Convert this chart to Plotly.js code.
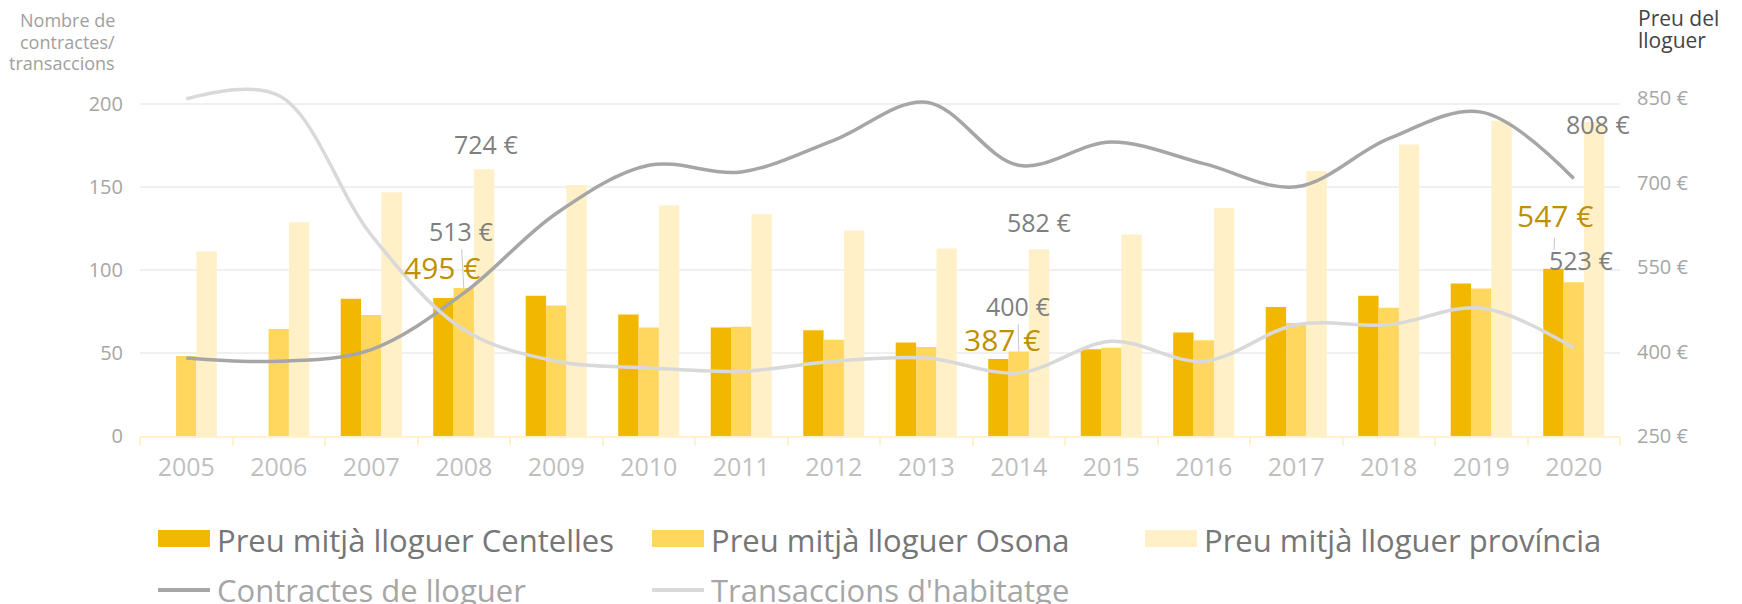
<!DOCTYPE html>
<html>
<head>
<meta charset="utf-8">
<script src="https://cdn.plot.ly/plotly-3.0.1.min.js"></script>
<style>html,body{margin:0;padding:0;background:#fff;}#chart{width:1742px;height:604px;}</style>
</head>
<body>
<div id="chart"></div>
<script>
// ---- data ----
const years = ['2005','2006','2007','2008','2009','2010','2011','2012','2013','2014','2015','2016','2017','2018','2019','2020'];
const preuCentelles = [null, null, 494, 495, 499, 466, 443, 438, 416, 387, 404, 434, 479, 499, 521, 547];
const preuOsona     = [392, 440, 465, 513, 482, 443, 444, 421, 408, 400, 407, 420, 451, 478, 512, 523];
const preuProvincia = [578, 630, 683, 724, 696, 660, 644, 615, 583, 582, 608, 655, 721, 768, 810, 808];
const contractes    = [47, 45, 52, 86, 134, 163, 159, 178, 201, 163, 177, 164, 150, 179, 195, 155];
const transaccions  = [203, 205, 121, 64, 45, 41, 39, 45, 47, 38, 57, 45, 67, 67, 77, 53];
const barNames  = ['Preu mitjà lloguer Centelles', 'Preu mitjà lloguer Osona', 'Preu mitjà lloguer província'];
const lineNames = ['Contractes de lloguer', "Transaccions d'habitatge"];
const priceTicks = [250, 400, 550, 700, 850];
const countTicks = [0, 50, 100, 150, 200];
const labelYears = ['2008', '2014', '2020'];
const leftTitle  = ['Nombre de', 'contractes/', 'transaccions'];
const rightTitle = ['Preu del', 'lloguer'];

// ---- styles ----
const FONT = 'Open Sans, Roboto, DejaVu Sans, sans-serif';
const barColors  = ['#F2B700', '#FFD75F', '#FFF0C8'];
const lineColors = ['#A6A6A6', '#D9D9D9'];
const GRAY_LBL = '#7F7F7F', GOLD_LBL = '#BF9000';
const M = {l: 140, r: 122, t: 70, b: 168};
const W = 1742 - M.l - M.r, H = 604 - M.t - M.b;
const fx = px => (px - M.l) / W;
const fy = py => (M.t + H - py) / H;
const PRICE_PX = 0.5628, COUNT_PX = 1.661;
const barW = W / years.length * 0.66 / 3;

const traces = [];
[preuCentelles, preuOsona, preuProvincia].forEach((vals, i) => {
  traces.push({type: 'bar', x: years, y: vals, name: barNames[i], yaxis: 'y',
    marker: {color: barColors[i], line: {width: 0}}, hovertemplate: '%{x}: %{y} €<extra>' + barNames[i] + '</extra>'});
});
[contractes, transaccions].forEach((vals, i) => {
  traces.push({type: 'scatter', mode: 'lines', x: years, y: vals, name: lineNames[i], yaxis: 'y2',
    line: {color: lineColors[i], width: 3.5, shape: 'spline', smoothing: 1}});
});

// ---- data labels ----
const labelStyle = {
  '2008': [{dx: -1, dy: 31}, {arrow: true, ax: -3, ay: -57}, {dx: 2, dy: 25}],
  '2014': [{dx: 4, dy: 19.5}, {arrow: true, ax: -1, ay: -46}, {dx: 0, dy: 27}],
  '2020': [{arrow: true, ax: 2, ay: -53, standoff: 19}, {dx: 7, dy: 22}, {dx: 4, dy: -2.5}]
};
const annotations = [];
const seriesList = [preuCentelles, preuOsona, preuProvincia];
labelYears.forEach(yr => {
  const idx = years.indexOf(yr);
  seriesList.forEach((vals, s) => {
    const st = labelStyle[yr][s];
    const v = vals[idx];
    const gold = s === 0;
    const a = {xref: 'x', yref: 'y', x: idx, y: v, text: Math.round(v) + ' €',
      font: {family: FONT, size: gold ? 30 : 25, color: gold ? GOLD_LBL : GRAY_LBL},
      xanchor: 'center', yanchor: 'middle'};
    const off = (s - 1) * barW;
    if (st.arrow) {
      Object.assign(a, {showarrow: true, xshift: off, ax: st.ax, ay: st.ay, arrowhead: 0,
        arrowwidth: 1, arrowcolor: '#C8C8C8', standoff: st.standoff || 0});
    } else {
      Object.assign(a, {showarrow: false, xshift: off + st.dx, yshift: st.dy});
    }
    annotations.push(a);
  });
});

// axis titles (one annotation per line)
[20, 41.5, 62.5].forEach((py, i) => annotations.push({xref: 'paper', yref: 'paper', x: fx(117), y: fy(py),
  xanchor: 'right', yanchor: 'middle', showarrow: false, text: leftTitle[i],
  font: {family: FONT, size: 18, color: '#A0A0A0'}}));
[18.5, 40.5].forEach((py, i) => annotations.push({xref: 'paper', yref: 'paper', x: fx(1636), y: fy(py),
  xanchor: 'left', yanchor: 'middle', showarrow: false, text: rightTitle[i],
  font: {family: FONT, size: 21, color: '#444444'}}));

// ---- legend (drawn) ----
const shapes = [];
const legendBars = [[158, 210], [652, 704], [1145, 1197]];
legendBars.forEach((r, i) => {
  shapes.push({type: 'rect', xref: 'paper', yref: 'paper', x0: fx(r[0]), x1: fx(r[1]), y0: fy(547), y1: fy(530),
    fillcolor: barColors[i], line: {width: 0}});
  annotations.push({xref: 'paper', yref: 'paper', x: fx(r[1] + 5), y: fy(540), xanchor: 'left', yanchor: 'middle',
    showarrow: false, text: barNames[i], font: {family: FONT, size: 31, color: '#767676'}});
});
const legendLines = [[158, 210], [652, 704]];
legendLines.forEach((r, i) => {
  shapes.push({type: 'line', xref: 'paper', yref: 'paper', x0: fx(r[0]), x1: fx(r[1]), y0: fy(590), y1: fy(590),
    line: {color: lineColors[i], width: 4}});
  annotations.push({xref: 'paper', yref: 'paper', x: fx(r[1] + 5), y: fy(590), xanchor: 'left', yanchor: 'middle',
    showarrow: false, text: lineNames[i], font: {family: FONT, size: 31, color: '#A6A6A6'}});
});

const layout = {
  width: 1742, height: 604,
  margin: M,
  paper_bgcolor: '#ffffff', plot_bgcolor: '#ffffff',
  font: {family: FONT},
  showlegend: false,
  barmode: 'group', bargap: 0.34, bargroupgap: 0,
  xaxis: {type: 'category', categoryorder: 'array', categoryarray: years, range: [-0.5, years.length - 0.5],
    tickson: 'boundaries', ticks: 'outside', ticklen: 8, tickwidth: 2, tickcolor: '#FFF2CC',
    showline: true, linecolor: '#FFF2CC', linewidth: 2, showgrid: false, zeroline: false, tickangle: 0,
    tickfont: {family: FONT, size: 25, color: '#BFBFBF'}, ticklabelstandoff: 8},
  yaxis: {side: 'right', range: [250, 250 + H / PRICE_PX], tickvals: priceTicks,
    ticktext: priceTicks.map(v => v + ' €'), showgrid: false, zeroline: false, showline: false,
    tickfont: {family: FONT, size: 20, color: '#A6A6A6'}, ticklabelstandoff: 16},
  yaxis2: {overlaying: 'y', side: 'left', range: [0, H / COUNT_PX], tickvals: countTicks,
    showgrid: true, gridcolor: '#F0F0F0', gridwidth: 2, zeroline: false, showline: false,
    tickfont: {family: FONT, size: 20, color: '#A6A6A6'}, ticklabelstandoff: 16},
  annotations: annotations,
  shapes: shapes
};

Plotly.newPlot('chart', traces, layout, {displayModeBar: false, responsive: false});
</script>
</body>
</html>
